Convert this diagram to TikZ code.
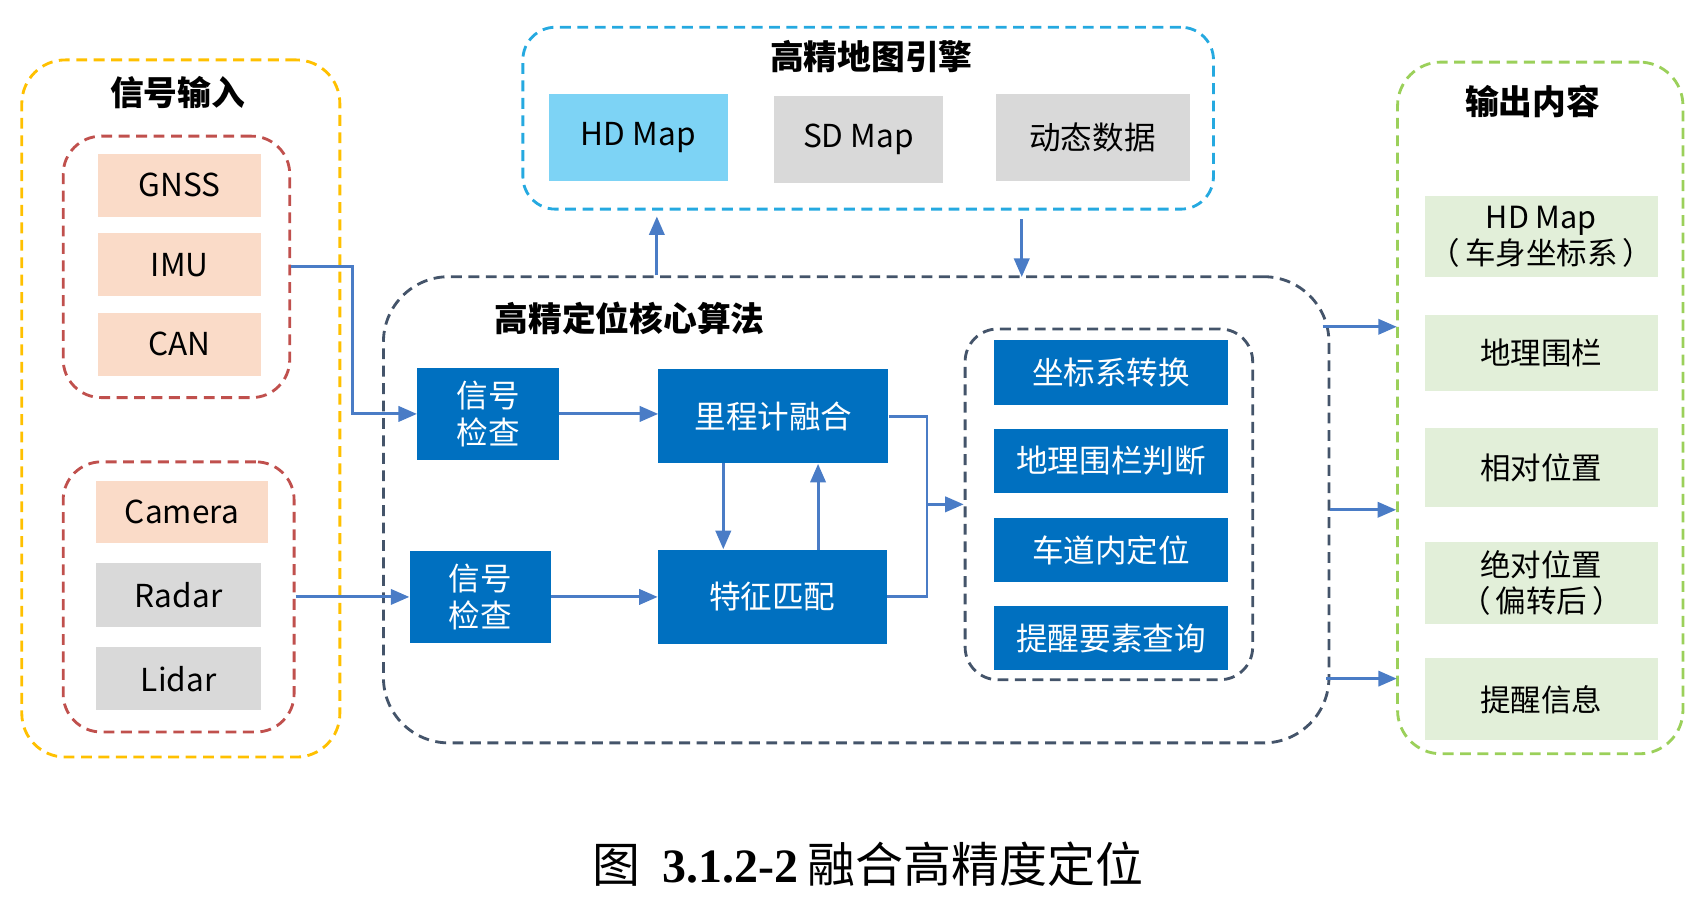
\documentclass[tikz,border=0pt]{standalone}
\usepackage{fontspec}
\setmainfont{Noto Sans CJK SC}
\newfontfamily\capnum{Liberation Serif}
\usetikzlibrary{arrows.meta,calc,positioning,fit}
\definecolor{SigYellow}{HTML}{FFC000}
\definecolor{SensRed}{HTML}{C0504D}
\definecolor{Peach}{HTML}{FADBC8}
\definecolor{LightGray}{HTML}{D9D9D9}
\definecolor{MapCyan}{HTML}{25A9E0}
\definecolor{HDBlue}{HTML}{7DD3F5}
\definecolor{Slate}{HTML}{44546A}
\definecolor{ProcBlue}{HTML}{0070C0}
\definecolor{FlowBlue}{HTML}{4A7CC6}
\definecolor{OutGreen}{HTML}{9BD05A}
\definecolor{PaleGreen}{HTML}{E2EFD9}

\begin{document}
\begin{tikzpicture}[x=1pt,y=-1pt,>={Triangle[length=17pt,width=14pt]},
  grp/.style={draw,line width=2.6pt,dash pattern=on 10pt off 6pt,rounded corners=#1,inner sep=0pt},
  grp/.default=35pt,
  title/.style={font=\fontsize{31}{36}\selectfont\bfseries},
  box/.style={inner sep=0pt,align=center,font=\fontsize{29}{34}\selectfont},
  proc/.style={box,fill=ProcBlue,text=white},
  flow/.style={->,draw=FlowBlue,line width=2.7pt},
  link/.style={draw=FlowBlue,line width=2.7pt}]
  \useasboundingbox (0,0) rectangle (1568,830);

  \node[grp=40pt,draw=SigYellow,fit={(20,55)(312,695)}] (sig) {};
  \node[title] (sigT) at (163,85) {信号输入};
  \node[grp,draw=SensRed,fit={(58,125)(266,365)}] (sensA) {};
  \foreach \nm/\y/\txt in {gnss/170/GNSS,imu/243/IMU,can/316/CAN}
    \node[box,fill=Peach,minimum width=150pt,minimum height=58pt] (\nm) at (165,\y) {\txt};
  \node[grp,draw=SensRed,fit={(58,424)(270,672)}] (sensB) {};
  \node[box,fill=Peach,minimum width=158pt,minimum height=57pt] (cam) at (167,470) {Camera};
  \node[box,fill=LightGray,minimum width=152pt,minimum height=59pt] (radar) at (164,546) {Radar};
  \node[box,fill=LightGray,minimum width=152pt,minimum height=58pt] (lidar) at (164,623) {Lidar};

  \node[grp=30pt,draw=MapCyan,fit={(480,25)(1114,192)}] (map) {};
  \node[title] (mapT) at (800,52) {高精地图引擎};
  \node[box,fill=HDBlue,minimum width=164pt,minimum height=80pt] (hd) at (586,126) {HD Map};
  \node[box,fill=LightGray,minimum width=155pt,minimum height=80pt] (sd) at (788,128) {SD Map};
  \node[box,fill=LightGray,minimum width=178pt,minimum height=80pt] (dyn) at (1003,126) {动态数据};

  \node[grp=60pt,draw=Slate,fit={(352,254)(1220,682)}] (core) {};
  \node[title] (coreT) at (578,292) {高精定位核心算法};
  \node[proc,minimum width=130pt,minimum height=85pt] (chkA) at (448,380) {信号\\检查};
  \node[proc,minimum width=130pt,minimum height=84pt] (chkB) at (441,548) {信号\\检查};
  \node[proc,minimum width=211pt,minimum height=86pt] (odo) at (710,382) {里程计融合};
  \node[proc,minimum width=210pt,minimum height=86pt] (feat) at (709,548) {特征匹配};
  \node[grp=30pt,draw=Slate,fit={(886,302)(1150,624)}] (func) {};
  \foreach \nm/\y/\txt in {conv/342/坐标系转换,fence/423/地理围栏判断,lane/505/车道内定位,alert/586/提醒要素查询}
    \node[proc,minimum width=215pt,minimum height=59pt] (\nm) at (1020,\y) {\txt};

  \node[grp=40pt,draw=OutGreen,fit={(1283,57)(1545,692)}] (out) {};
  \node[title] (outT) at (1407,93) {输出内容};
  \foreach \nm/\y/\h/\txt in {o1/217/74/{HD Map\\（\,车身坐标系\,）},o2/324/70/地理围栏,o3/429/73/相对位置,o4/535/75/{绝对位置\\（\,偏转后\,）},o5/642/75/提醒信息}
    \node[box,fill=PaleGreen,font=\fontsize{28}{33}\selectfont,minimum width=214pt,minimum height=\h pt] (\nm) at (1415,\y) {\txt};

  \draw[flow] (sensA.east) -- ++(56,0) |- (chkA.west);
  \draw[flow] (sensB.east) -- (chkB.west);
  \draw[flow] (chkA.east) -- (chkA.east -| odo.west);
  \draw[flow] (chkB.east) -- (feat.west);
  \draw[flow] ([xshift=-46pt]odo.south) -- ++(0,79);
  \draw[flow] ([xshift=42pt]feat.north) -- ++(0,-79);
  \coordinate (merge) at (851,463);
  \draw[link] (odo.east) -| (merge) |- (feat.east);
  \draw[flow] (merge) -- (func.west);
  \draw[flow] ([xshift=-183pt]core.north) -- ++(0,-54);
  \draw[flow] ([xshift=141pt,yshift=-8pt]map.south) -- ++(0,53);
  \draw[flow] ([xshift=-7pt,yshift=168pt]core.east) -- ++(68,0);
  \draw[flow] (core.east) -- (core.east -| out.west);
  \draw[flow] ([xshift=-4pt,yshift=-155pt]core.east) -- ++(65,0);

  \node[font=\fontsize{44}{50}\selectfont] (cap) at (797,793) {图\hspace{0.45em}{\capnum\bfseries 3.1.2-2}\hspace{0.2em}融合高精度定位};
\end{tikzpicture}
\end{document}
